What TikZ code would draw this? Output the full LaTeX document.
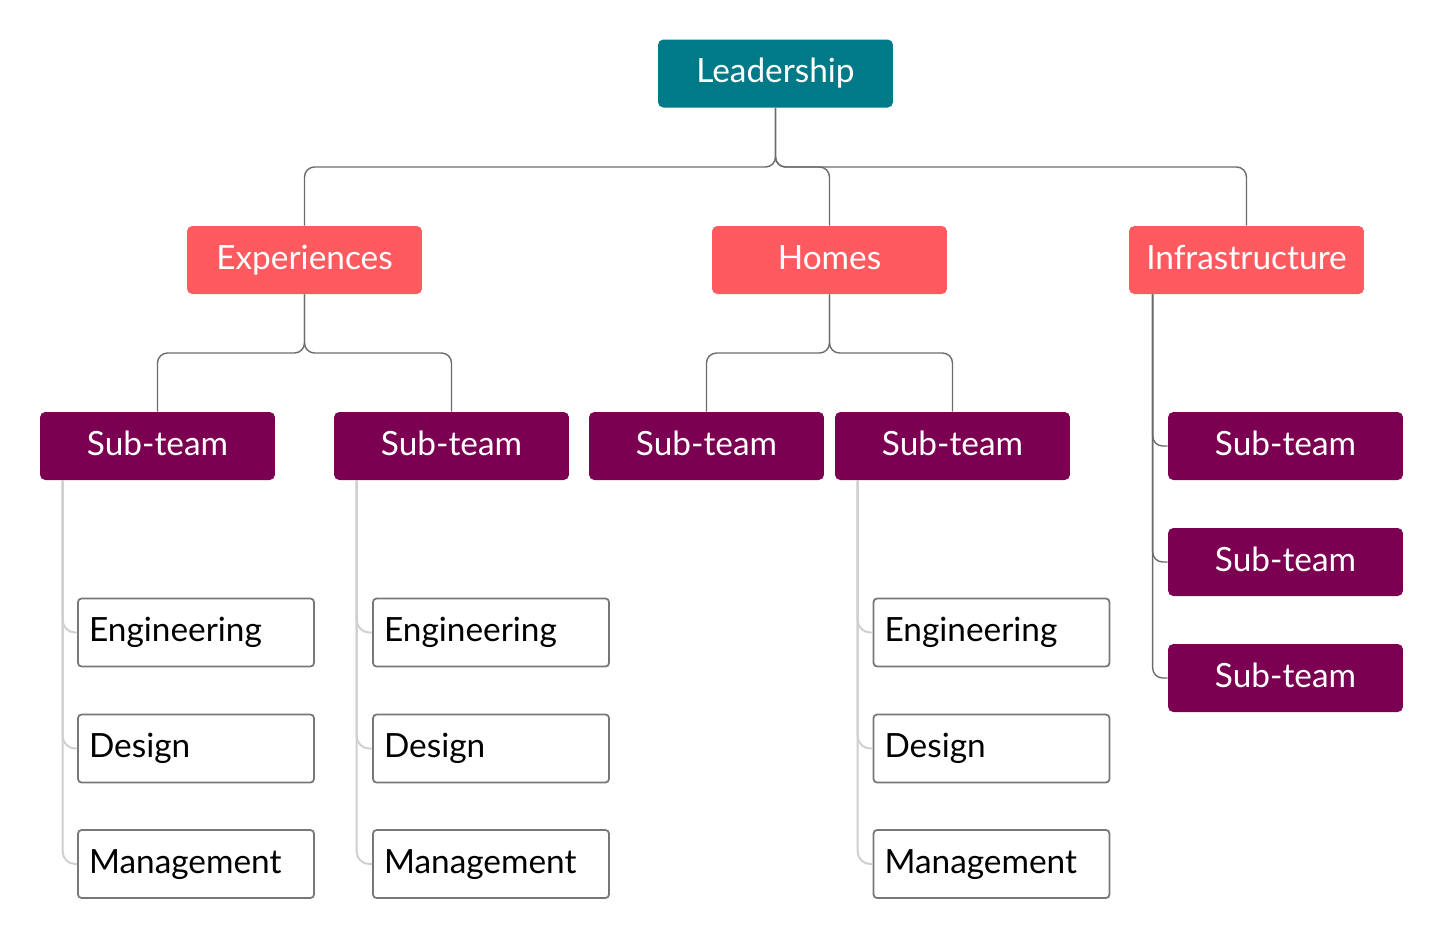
\documentclass[tikz,border=0pt]{standalone}
\usepackage{fontspec}
\setmainfont{Lato}
\usetikzlibrary{positioning}
\definecolor{leadcol}{HTML}{007A87}
\definecolor{unitcol}{HTML}{FF5A5F}
\definecolor{subcol}{HTML}{7B0051}
\definecolor{linkcol}{HTML}{6B6B6B}
\definecolor{leafline}{HTML}{CFCFCF}
\definecolor{leafdraw}{HTML}{777777}
\tikzset{box/.style = {rectangle, rounded corners=3pt, minimum width=4.7cm, minimum height=1.36cm,
                       text=white, font=\fontsize{19}{22}\selectfont, text height=2.3ex, text depth=0.25ex},
         leadbox/.style = {box, fill=leadcol},
         unitbox/.style = {box, fill=unitcol},
         subbox/.style  = {box, fill=subcol},
         leaf/.style = {rectangle, rounded corners=2pt, draw=leafdraw, line width=1pt, fill=white,
                        minimum height=1.36cm, text width=4.28cm, inner xsep=0.22cm, align=left,
                        font=\fontsize{19}{22}\selectfont, text height=2.3ex, text depth=0.25ex},
         link/.style = {draw=linkcol, line width=0.8pt, rounded corners=0.2cm},
         twig/.style = {draw=leafline, line width=1.1pt, rounded corners=0.25cm}}

\begin{document}
\begin{tikzpicture}[x=0.02cm, y=-0.02cm]
            \useasboundingbox (0,0) rectangle (1443,938);

            \node [leadbox] (lead) at (775.5,  73.5) {Leadership};

            \node [unitbox] (exp)  at (304.5, 260) {Experiences};
            \node [unitbox] (home) at (829.5, 260) {Homes};
            \node [unitbox] (infr) at (1246.5, 260) {Infrastructure};

            \node [subbox] (s1) at (157.5, 446) {Sub-team};
            \node [subbox] (s2) at (451.5, 446) {Sub-team};
            \node [subbox] (s3) at (706.5, 446) {Sub-team};
            \node [subbox] (s4) at (952.5, 446) {Sub-team};

            \node [subbox] (i1) at (1285.5, 446) {Sub-team};
            \node [subbox] (i2) at (1285.5, 562) {Sub-team};
            \node [subbox] (i3) at (1285.5, 678) {Sub-team};

            \node [leaf] (e1) at (196, 632.5) {Engineering};
            \node [leaf] (d1) at (196, 748.5) {Design};
            \node [leaf] (m1) at (196, 864)   {Management};

            \node [leaf] (e2) at (491, 632.5) {Engineering};
            \node [leaf] (d2) at (491, 748.5) {Design};
            \node [leaf] (m2) at (491, 864)   {Management};

            \node [leaf] (e4) at (991.5, 632.5) {Engineering};
            \node [leaf] (d4) at (991.5, 748.5) {Design};
            \node [leaf] (m4) at (991.5, 864)   {Management};

            % top level
            \draw [link] (lead.south) -- (775.5, 167) -| (exp.north);
            \draw [link] (lead.south) -- (775.5, 167) -| (home.north);
            \draw [link] (lead.south) -- (775.5, 167) -| (infr.north);

            % sub-teams
            \draw [link] (exp.south) -- (304.5, 353) -| (s1.north);
            \draw [link] (exp.south) -- (304.5, 353) -| (s2.north);
            \draw [link] (home.south) -- (829.5, 353) -| (s3.north);
            \draw [link] (home.south) -- (829.5, 353) -| (s4.north);

            \draw [link] ([xshift=0.48cm]infr.south west) |- (i1.west);
            \draw [link] ([xshift=0.48cm]infr.south west) |- (i2.west);
            \draw [link] ([xshift=0.48cm]infr.south west) |- (i3.west);

            % teams
            \foreach \s/\e/\d/\m in {s1/e1/d1/m1, s2/e2/d2/m2, s4/e4/d4/m4} {
                \draw [twig] ([xshift=0.46cm]\s.south west) |- (\e.west);
                \draw [twig] ([xshift=0.46cm]\s.south west) |- (\d.west);
                \draw [twig] ([xshift=0.46cm]\s.south west) |- (\m.west);
            }
        \end{tikzpicture}
\end{document}
